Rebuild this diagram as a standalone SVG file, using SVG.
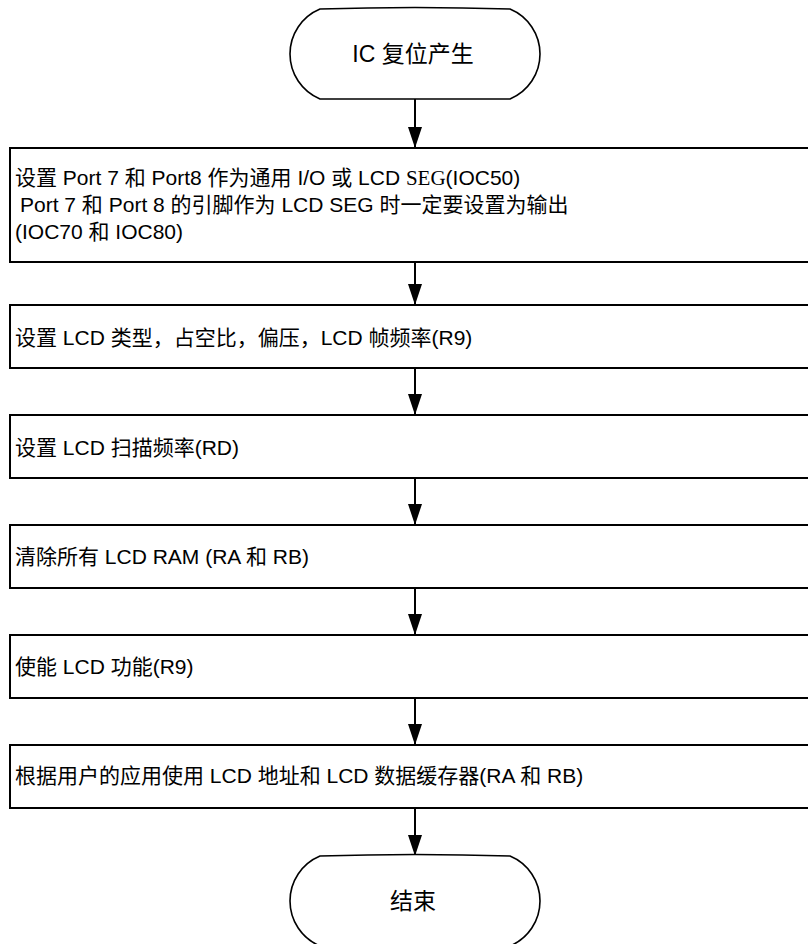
<svg xmlns="http://www.w3.org/2000/svg" width="808" height="944" viewBox="0 0 808 944">
<style>
  .box { fill: #fff; stroke: #000; stroke-width: 2; }
  .term { fill: #fff; stroke: #000; stroke-width: 1.6; }
  .t { font-family: "Liberation Sans", "Noto Sans CJK SC", sans-serif; font-size: 21px; fill: #000; }
  .tt { font-family: "Liberation Sans", "Noto Sans CJK SC", sans-serif; font-size: 23px; fill: #000; text-anchor: middle; }
  .serif { font-family: "Liberation Serif", "Noto Sans CJK SC", serif; }
  .line { stroke: #000; stroke-width: 2; fill: none; }
</style>
<defs>
  <marker id="ah" markerWidth="21" markerHeight="14" refX="21" refY="7" orient="auto" markerUnits="userSpaceOnUse" viewBox="0 0 21 14">
    <path d="M0,0 L21,7 L0,14 Z" fill="#000"/>
  </marker>
</defs>
<rect width="808" height="944" fill="#fff"/>
<g id="connectors">
  <line class="line" x1="415" y1="99" x2="415" y2="148" marker-end="url(#ah)"/>
  <line class="line" x1="415" y1="262" x2="415" y2="305" marker-end="url(#ah)"/>
  <line class="line" x1="415" y1="368" x2="415" y2="415" marker-end="url(#ah)"/>
  <line class="line" x1="415" y1="478" x2="415" y2="525" marker-end="url(#ah)"/>
  <line class="line" x1="415" y1="588" x2="415" y2="635" marker-end="url(#ah)"/>
  <line class="line" x1="415" y1="698" x2="415" y2="745" marker-end="url(#ah)"/>
  <line class="line" x1="415" y1="808" x2="415" y2="856" marker-end="url(#ah)"/>
</g>
<g id="start">
  <path class="term" d="M320,9 Q415,6 510,9 A48.75,48.75 0 0 1 510,99 L320,99 A48.75,48.75 0 0 1 320,9 Z"/>
  <text class="tt" x="413" y="62">IC 复位产生</text>
</g>
<g id="step1">
  <rect class="box" x="10" y="148" width="820" height="114"/>
  <text class="t" x="15" y="185">设置 Port 7 和 Port8 作为通用 I/O 或 LCD <tspan class="serif">SEG</tspan>(IOC50)</text>
  <text class="t" x="20" y="212">Port 7 和 Port 8 的引脚作为 LCD SEG 时一定要设置为输出</text>
  <text class="t" x="15" y="239">(IOC70 和 IOC80)</text>
</g>
<g id="step2">
  <rect class="box" x="10" y="305" width="820" height="63"/>
  <text class="t" x="15" y="345">设置 LCD 类型，占空比，偏压，LCD 帧频率(R9)</text>
</g>
<g id="step3">
  <rect class="box" x="10" y="415" width="820" height="63"/>
  <text class="t" x="15" y="455">设置 LCD 扫描频率(RD)</text>
</g>
<g id="step4">
  <rect class="box" x="10" y="525" width="820" height="63"/>
  <text class="t" x="15" y="564">清除所有 LCD RAM (RA 和 RB)</text>
</g>
<g id="step5">
  <rect class="box" x="10" y="635" width="820" height="63"/>
  <text class="t" x="15" y="674">使能 LCD 功能(R9)</text>
</g>
<g id="step6">
  <rect class="box" x="10" y="745" width="820" height="63"/>
  <text class="t" x="15" y="783">根据用户的应用使用 LCD 地址和 LCD 数据缓存器(RA 和 RB)</text>
</g>
<g id="end">
  <path class="term" d="M320,856 Q415,853 510,856 A48.75,48.75 0 0 1 510,946 L320,946 A48.75,48.75 0 0 1 320,856 Z"/>
  <text class="tt" x="413" y="909">结束</text>
</g>
</svg>
